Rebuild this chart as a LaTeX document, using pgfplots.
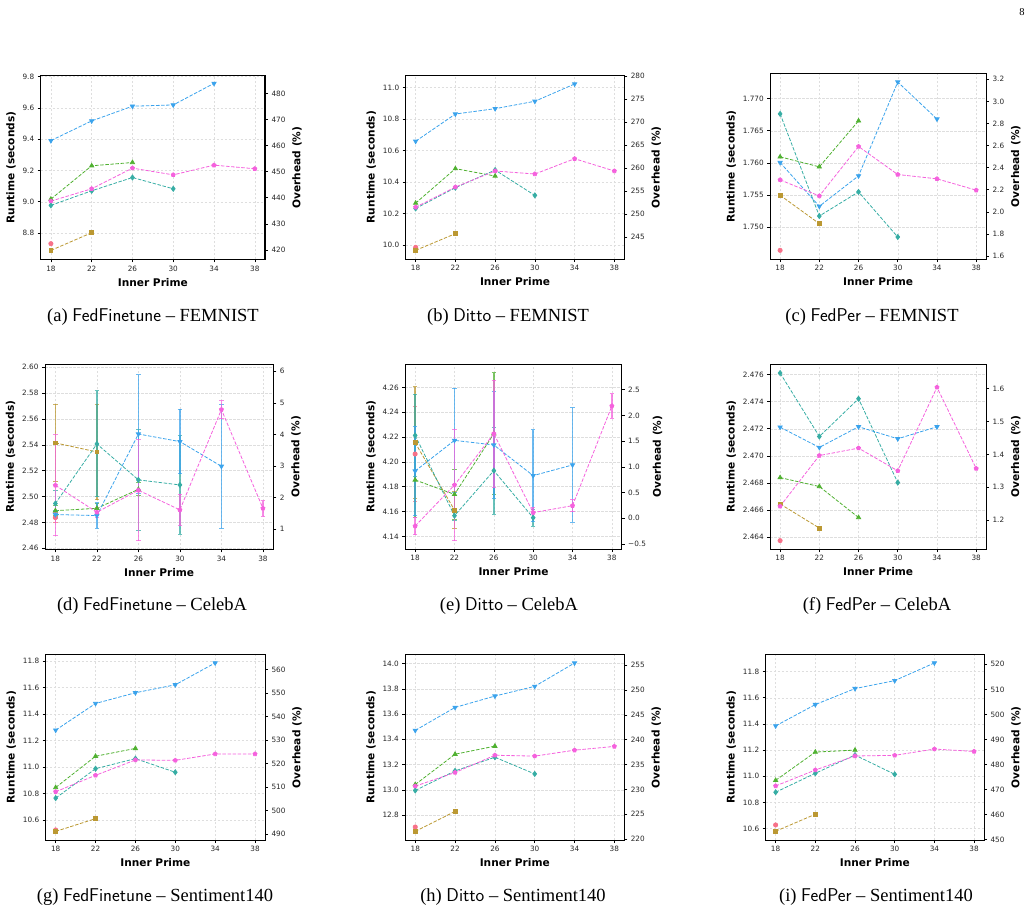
\documentclass[border=0pt]{standalone}
\usepackage{fontspec}
\setmainfont{Liberation Serif}
\newfontfamily\djv{DejaVu Sans}
\usepackage{pgfplots}
\pgfplotsset{compat=1.18}
\definecolor{cA}{HTML}{F77189}
\definecolor{cB}{HTML}{BB9832}
\definecolor{cC}{HTML}{50B131}
\definecolor{cD}{HTML}{36ADA4}
\definecolor{cE}{HTML}{3BA3EC}
\definecolor{cF}{HTML}{F561DD}
\pgfplotsset{
  /pgf/number format/assume math mode=true,
  common/.style={
    scale only axis, xmin=17, xmax=39, anchor=north west,
    tick align=outside, major tick length=3pt,
    tick style={black, line width=0.6pt},
    axis line style={black, line width=1pt},
    label style={font=\djv\bfseries\fontsize{10.6}{12}\selectfont},
    tick label style={font=\djv\fontsize{7.3}{8}\selectfont, text=black!85},
    scaled y ticks=false,
  },
  mainax/.style={common,
    xtick={18,22,26,30,34,38}, xtick pos=bottom, ytick pos=left,
    xmajorgrids, ymajorgrids,
    major grid style={dash pattern=on 2.5pt off 1.5pt, black!13, line width=0.5pt},
    xlabel={Inner Prime}, ylabel={Runtime (seconds)},
  },
  rax/.style={common, axis x line=none, axis y line*=right,
    tick align=outside, ylabel={Overhead (\%)},
  },
  ser/.style={color=#1, line width=0.8pt, dash pattern=on 3.5pt off 1.6pt,
    mark options={solid, fill=#1, draw=#1}, mark size=2.1pt},
  sA/.style={ser=cA, mark=*},
  sB/.style={ser=cB, mark=square*, mark size=1.9pt},
  sC/.style={ser=cC, mark=triangle*, mark size=2.4pt},
  sD/.style={ser=cD, mark=diamond*, mark size=2.5pt},
  sE/.style={ser=cE, mark=triangle*, mark size=2.4pt, mark options={solid, fill=cE, draw=cE, rotate=180}},
  sF/.style={ser=cF, mark=pentagon*},
  eb/.style={error bars/.cd, y dir=both, y explicit,
    error bar style={solid, line width=1.4pt, opacity=0.75},
    error mark options={solid, line width=1pt, mark size=2.2pt, opacity=0.75, rotate=90}},
  f1/.style={yticklabel style={/pgf/number format/.cd, fixed, fixed zerofill, precision=1}},
  f2/.style={yticklabel style={/pgf/number format/.cd, fixed, fixed zerofill, precision=2}},
  f3/.style={yticklabel style={/pgf/number format/.cd, fixed, fixed zerofill, precision=3}},
  f0/.style={yticklabel style={/pgf/number format/.cd, fixed, precision=0}},
}
\begin{document}
\begin{tikzpicture}
\path[use as bounding box] (0pt,0pt) rectangle (1033pt,-913pt);
\node[font=\fontsize{10.5}{12}\selectfont] at (1022pt,-12pt) {8};
% ---------------- (a)
\begin{axis}[mainax, f1, at={(40.7pt,-75.7pt)}, width=224.3pt, height=183.6pt,
  ymin=8.632, ymax=9.806, ytick={8.8,9.0,9.2,9.4,9.6,9.8}]
\addplot[sA] coordinates {(18,8.732)};
\addplot[sB] coordinates {(18,8.689)(22,8.802)};
\addplot[sC] coordinates {(18,9.017)(22,9.230)(26,9.251)};
\addplot[sD] coordinates {(18,8.977)(22,9.070)(26,9.155)(30,9.083)};
\addplot[sE] coordinates {(18,9.391)(22,9.517)(26,9.611)(30,9.619)(34,9.757)};
\addplot[sF] coordinates {(18,9.004)(22,9.083)(26,9.215)(30,9.172)(34,9.234)(38,9.211)};
\end{axis}
\begin{axis}[rax, f0, at={(40.7pt,-75.7pt)}, width=224.3pt, height=183.6pt,
  ymin=416.42, ymax=486.77, ytick={420,430,440,450,460,470,480}]
\addplot[draw=none] coordinates {(18,450)};
\end{axis}
% ---------------- (b)
\begin{axis}[mainax, f1, at={(405.7pt,-75.3pt)}, width=218.6pt, height=183.7pt,
  ymin=9.911, ymax=11.078, ytick={10.0,10.2,10.4,10.6,10.8,11.0}]
\addplot[sA] coordinates {(18,9.985)};
\addplot[sB] coordinates {(18,9.966)(22,10.072)};
\addplot[sC] coordinates {(18,10.266)(22,10.485)(26,10.438)};
\addplot[sD] coordinates {(18,10.232)(22,10.364)(26,10.476)(30,10.315)};
\addplot[sE] coordinates {(18,10.659)(22,10.832)(26,10.866)(30,10.913)(34,11.023)};
\addplot[sF] coordinates {(18,10.240)(22,10.368)(26,10.470)(30,10.451)(34,10.548)(38,10.470)};
\end{axis}
\begin{axis}[rax, f0, at={(405.7pt,-75.3pt)}, width=218.6pt, height=183.7pt,
  ymin=240.30, ymax=280.14, ytick={245,250,255,260,265,270,275,280}]
\addplot[draw=none] coordinates {(18,250)};
\end{axis}
% ---------------- (c)
\begin{axis}[mainax, f3, at={(770.3pt,-73.7pt)}, width=215.7pt, height=185.3pt,
  ymin=1.74501, ymax=1.77390, ytick={1.750,1.755,1.760,1.765,1.770}]
\addplot[sA] coordinates {(18,1.74636)};
\addplot[sB] coordinates {(18,1.75495)(22,1.75052)};
\addplot[sC] coordinates {(18,1.76094)(22,1.75938)(26,1.76655)};
\addplot[sD] coordinates {(18,1.76764)(22,1.75171)(26,1.75547)(30,1.74844)};
\addplot[sE] coordinates {(18,1.76005)(22,1.75323)(26,1.75797)(30,1.77260)(34,1.76683)};
\addplot[sF] coordinates {(18,1.75735)(22,1.75484)(26,1.76255)(30,1.75818)(34,1.75751)(38,1.75574)};
\end{axis}
\begin{axis}[rax, f1, at={(770.3pt,-73.7pt)}, width=215.7pt, height=185.3pt,
  ymin=1.573, ymax=3.251, ytick={1.6,1.8,2.0,2.2,2.4,2.6,2.8,3.0,3.2}]
\addplot[draw=none] coordinates {(18,2)};
\end{axis}
% ---------------- (d)
\begin{axis}[mainax, f2, at={(45pt,-364.3pt)}, width=228.3pt, height=185pt,
  ymin=2.4592, ymax=2.6023, ytick={2.46,2.48,2.50,2.52,2.54,2.56,2.58,2.60}]
\addplot[sA, eb] coordinates {(18,2.4837)+-(0,0.004)};
\addplot[sB, eb] coordinates {(18,2.5415)+-(0,0.030) (22,2.5345)+-(0,0.037)};
\addplot[sC, eb] coordinates {(18,2.4891)+-(0,0.004) (22,2.4909)+-(0,0.004) (26,2.5056)+-(0,0.005)};
\addplot[sD, eb] coordinates {(18,2.4946)+-(0,0.010) (22,2.5407)+-(0,0.041) (26,2.5129)+-(0,0.039) (30,2.5090)+-(0,0.038)};
\addplot[sE, eb] coordinates {(18,2.4861)+-(0,0.003) (22,2.4853)+-(0,0.010) (26,2.5484)+-(0,0.046) (30,2.5425)+-(0,0.025) (34,2.5234)+-(0,0.048)};
\addplot[sF, eb] coordinates {(18,2.5087)+-(0,0.039) (22,2.4879)+-(0,0.004) (26,2.5049)+-(0,0.039) (30,2.4897)+-(0,0.012) (34,2.5673)+-(0,0.007) (38,2.4909)+-(0,0.006)};
\end{axis}
\begin{axis}[rax, f0, at={(45pt,-364.3pt)}, width=228.3pt, height=185pt,
  ymin=0.355, ymax=6.222, ytick={1,2,3,4,5,6}]
\addplot[draw=none] coordinates {(18,2)};
\end{axis}
% ---------------- (e)
\begin{axis}[mainax, f2, at={(405.3pt,-364pt)}, width=216.4pt, height=185pt,
  ymin=4.1298, ymax=4.2788, ytick={4.14,4.16,4.18,4.20,4.22,4.24,4.26}]
\addplot[sA, eb] coordinates {(18,4.2063)+-(0,0.038)};
\addplot[sB, eb] coordinates {(18,4.2154)+-(0,0.045) (22,4.1612)+-(0,0.015)};
\addplot[sC, eb] coordinates {(18,4.1854)+-(0,0.030) (22,4.1738)+-(0,0.020) (26,4.2227)+-(0,0.049)};
\addplot[sD, eb] coordinates {(18,4.2213)+-(0,0.033) (22,4.1566)+-(0,0.004) (26,4.1929)+-(0,0.035) (30,4.1550)+-(0,0.007)};
\addplot[sE, eb] coordinates {(18,4.1926)+-(0,0.036) (22,4.2173)+-(0,0.042) (26,4.2136)+-(0,0.043) (30,4.1889)+-(0,0.037) (34,4.1975)+-(0,0.046)};
\addplot[sF, eb] coordinates {(18,4.1483)+-(0,0.007) (22,4.1813)+-(0,0.045) (26,4.2227)+-(0,0.043) (30,4.1591)+-(0,0.004) (34,4.1647)+-(0,0.005) (38,4.2450)+-(0,0.010)};
\end{axis}
\begin{axis}[rax, at={(405.3pt,-364pt)}, width=216.4pt, height=185pt,
  ymin=-0.597, ymax=2.999, ytick={-0.5,0,0.5,1,1.5,2,2.5},
  yticklabels={−0.5,0.0,0.5,1.0,1.5,2.0,2.5}]
\addplot[draw=none] coordinates {(18,1)};
\end{axis}
% ---------------- (f)
\begin{axis}[mainax, f3, at={(770.3pt,-364pt)}, width=215.7pt, height=185pt,
  ymin=2.46311, ymax=2.47679, ytick={2.464,2.466,2.468,2.470,2.472,2.474,2.476}]
\addplot[sA] coordinates {(18,2.46373)};
\addplot[sB] coordinates {(18,2.46644)(22,2.46466)};
\addplot[sC] coordinates {(18,2.46839)(22,2.46773)(26,2.46544)};
\addplot[sD] coordinates {(18,2.47612)(22,2.47143)(26,2.47422)(30,2.46802)};
\addplot[sE] coordinates {(18,2.47212)(22,2.47062)(26,2.47215)(30,2.47126)(34,2.47215)};
\addplot[sF] coordinates {(18,2.46627)(22,2.47002)(26,2.47057)(30,2.46889)(34,2.47507)(38,2.46906)};
\end{axis}
\begin{axis}[rax, f1, at={(770.3pt,-364pt)}, width=215.7pt, height=185pt,
  ymin=1.112, ymax=1.675, ytick={1.2,1.3,1.4,1.5,1.6}]
\addplot[draw=none] coordinates {(18,1.3)};
\end{axis}
% ---------------- (g)
\begin{axis}[mainax, f1, at={(45.7pt,-654.3pt)}, width=219.3pt, height=185.7pt,
  ymin=10.449, ymax=11.850, ytick={10.6,10.8,11.0,11.2,11.4,11.6,11.8}]
\addplot[sA] coordinates {(18,10.525)};
\addplot[sB] coordinates {(18,10.514)(22,10.610)};
\addplot[sC] coordinates {(18,10.845)(22,11.081)(26,11.140)};
\addplot[sD] coordinates {(18,10.765)(22,10.987)(26,11.063)(30,10.960)};
\addplot[sE] coordinates {(18,11.278)(22,11.479)(26,11.560)(30,11.620)(34,11.785)};
\addplot[sF] coordinates {(18,10.813)(22,10.937)(26,11.053)(30,11.050)(34,11.098)(38,11.098)};
\end{axis}
\begin{axis}[rax, f0, at={(45.7pt,-654.3pt)}, width=219.3pt, height=185.7pt,
  ymin=487.45, ymax=566.4, ytick={490,500,510,520,530,540,550,560}]
\addplot[draw=none] coordinates {(18,500)};
\end{axis}
% ---------------- (h)
\begin{axis}[mainax, f1, at={(405.3pt,-654.3pt)}, width=219pt, height=185.7pt,
  ymin=12.602, ymax=14.074, ytick={12.8,13.0,13.2,13.4,13.6,13.8,14.0}]
\addplot[sA] coordinates {(18,12.705)};
\addplot[sB] coordinates {(18,12.670)(22,12.829)};
\addplot[sC] coordinates {(18,13.042)(22,13.282)(26,13.346)};
\addplot[sD] coordinates {(18,12.995)(22,13.150)(26,13.258)(30,13.126)};
\addplot[sE] coordinates {(18,13.471)(22,13.653)(26,13.743)(30,13.820)(34,14.005)};
\addplot[sF] coordinates {(18,13.029)(22,13.137)(26,13.274)(30,13.267)(34,13.314)(38,13.344)};
\end{axis}
\begin{axis}[rax, f0, at={(405.3pt,-654.3pt)}, width=219pt, height=185.7pt,
  ymin=219.80, ymax=257.22, ytick={220,225,230,235,240,245,250,255}]
\addplot[draw=none] coordinates {(18,230)};
\end{axis}
% ---------------- (i)
\begin{axis}[mainax, f1, at={(765.7pt,-654.3pt)}, width=218.3pt, height=185.7pt,
  ymin=10.513, ymax=11.932, ytick={10.6,10.8,11.0,11.2,11.4,11.6,11.8}]
\addplot[sA] coordinates {(18,10.628)};
\addplot[sB] coordinates {(18,10.580)(22,10.710)};
\addplot[sC] coordinates {(18,10.969)(22,11.185)(26,11.200)};
\addplot[sD] coordinates {(18,10.878)(22,11.023)(26,11.162)(30,11.015)};
\addplot[sE] coordinates {(18,11.385)(22,11.548)(26,11.670)(30,11.731)(34,11.866)};
\addplot[sF] coordinates {(18,10.926)(22,11.048)(26,11.155)(30,11.160)(34,11.208)(38,11.190)};
\end{axis}
\begin{axis}[rax, f0, at={(765.7pt,-654.3pt)}, width=218.3pt, height=185.7pt,
  ymin=449.87, ymax=524.0, ytick={450,460,470,480,490,500,510,520}]
\addplot[draw=none] coordinates {(18,480)};
\end{axis}
% captions
\begin{scope}[every node/.style={font=\fontsize{18.5}{21}\selectfont}]
\node at (153pt,-317pt) {(a) \textsf{FedFinetune} – FEMNIST};
\node at (508pt,-317pt) {(b) \textsf{Ditto} – FEMNIST};
\node at (872pt,-317pt) {(c) \textsf{FedPer} – FEMNIST};
\node at (152pt,-606pt) {(d) \textsf{FedFinetune} – CelebA};
\node at (509pt,-606pt) {(e) \textsf{Ditto} – CelebA};
\node at (877pt,-606pt) {(f) \textsf{FedPer} – CelebA};
\node at (155pt,-897pt) {(g) \textsf{FedFinetune} – Sentiment140};
\node at (513pt,-897pt) {(h) \textsf{Ditto} – Sentiment140};
\node at (876pt,-897pt) {(i) \textsf{FedPer} – Sentiment140};
\end{scope}
\end{tikzpicture}
\end{document}
